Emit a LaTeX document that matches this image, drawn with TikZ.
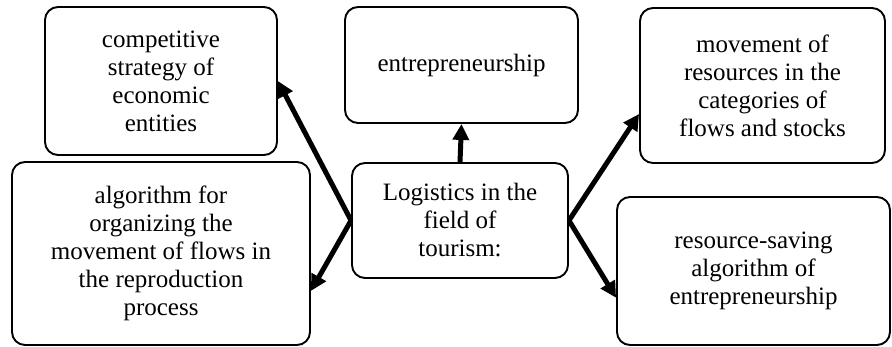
\documentclass[tikz,border=0pt]{standalone}
\usepackage{fontspec}
\setmainfont{Liberation Serif}
\usetikzlibrary{arrows.meta}

\begin{document}
\begin{tikzpicture}[x=1pt,y=-1pt,
  box/.style={draw,line width=1.9pt,rounded corners=13pt,align=center,font=\fontsize{25}{28}\selectfont},
  arr/.style={line width=5pt,-{Triangle[length=16pt,width=16pt]}}]
\useasboundingbox (0,0) rectangle (892,347);

\node[box,minimum width=232,minimum height=148] (comp) at (161,81) {competitive\\strategy of\\economic\\entities};
\node[box,minimum width=233,minimum height=116] (entr) at (461.5,65) {entrepreneurship};
\node[box,minimum width=245,minimum height=155] (move) at (762.5,85.5) {movement of\\resources in the\\categories of\\flows and stocks};
\node[box,minimum width=298,minimum height=183] (algo) at (161,253.5) {algorithm for\\organizing the\\movement of flows in\\the reproduction\\process};
\node[box,minimum width=216,minimum height=115] (logi) at (460,220.5) {Logistics in the\\field of\\tourism:};
\node[box,minimum width=273,minimum height=148] (save) at (753.5,271) {resource-saving\\algorithm of\\entrepreneurship};

\draw[arr] (logi.west) -- (comp.east);
\draw[arr] (logi.west) -- (algo.-14);
\draw[arr] (logi.north) -- (entr.south);
\draw[arr] (logi.east) -- (move.193);
\draw[arr] (logi.east) -- (save.191);

\end{tikzpicture}
\end{document}
